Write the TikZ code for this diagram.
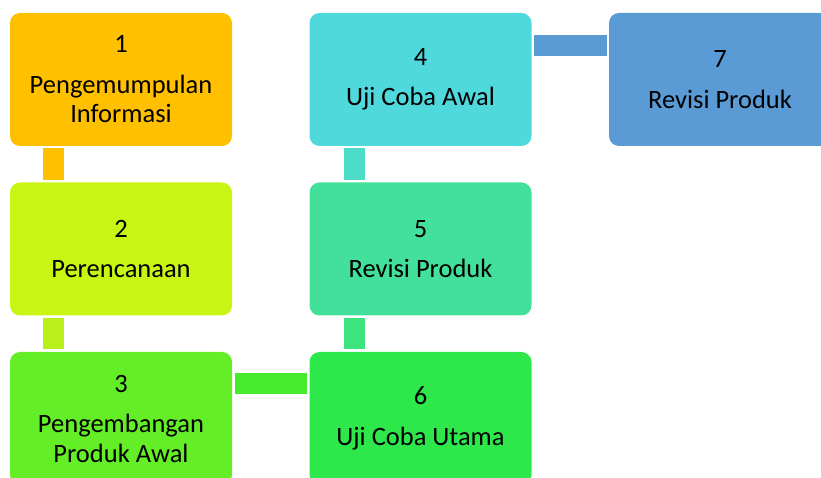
\documentclass[tikz,border=0pt]{standalone}
\usepackage{fontspec}
\setmainfont{Carlito}
\definecolor{gold}{HTML}{FFC000}
\definecolor{lime}{HTML}{C9F514}
\definecolor{limebar}{HTML}{B9F01A}
\definecolor{grass}{HTML}{64EE28}
\definecolor{grassbar}{HTML}{46EB2D}
\definecolor{leaf}{HTML}{2EE84B}
\definecolor{leafbar}{HTML}{3CE47D}
\definecolor{mint}{HTML}{42E09B}
\definecolor{mintbar}{HTML}{4CDCC8}
\definecolor{aqua}{HTML}{50D9DC}
\definecolor{steel}{HTML}{5B9BD5}
\begin{document}
\begin{tikzpicture}[line join=bevel,
  stepbox/.style={rounded corners=10bp,minimum width=222bp,minimum height=133bp,
    inner sep=0pt,outer sep=0pt,align=center,font=\fontsize{26.5bp}{29.5bp}\selectfont},
  bar/.style={line width=21bp,shorten <=2.5bp,shorten >=2.5bp}]
%%
\clip (0bp,0bp) rectangle (821bp,478bp);
\node (node_1) at (121bp,398.5bp) [stepbox,fill=gold] {1\\[11bp]Pengemumpulan\\Informasi};
  \node (node_2) at (121bp,229bp) [stepbox,fill=lime] {2\\[11bp]Perencanaan};
  \node (node_3) at (121bp,59.5bp) [stepbox,fill=grass] {3\\[11bp]Pengembangan\\Produk Awal};
  \node (node_4) at (420.5bp,398.5bp) [stepbox,fill=aqua] {4\\[11bp]Uji Coba Awal};
  \node (node_5) at (420.5bp,229bp) [stepbox,fill=mint] {5\\[11bp]Revisi Produk};
  \node (node_6) at (420.5bp,59.5bp) [stepbox,fill=leaf] {6\\[11bp]Uji Coba Utama};
  \node (node_7) at (720bp,398.5bp) [stepbox,fill=steel] {7\\[11bp]Revisi Produk};
  \draw [bar,gold] ([xshift=43.5bp]node_1.south west) -- ([xshift=43.5bp]node_2.north west);
  \draw [bar,limebar] ([xshift=43.5bp]node_2.south west) -- ([xshift=43.5bp]node_3.north west);
  \draw [bar,grassbar] ([yshift=-31.5bp]node_3.north east) -- ([yshift=-31.5bp]node_6.north west);
  \draw [bar,leafbar] ([xshift=44.5bp]node_6.north west) -- ([xshift=44.5bp]node_5.south west);
  \draw [bar,mintbar] ([xshift=44.5bp]node_5.north west) -- ([xshift=44.5bp]node_4.south west);
  \draw [bar,steel] ([yshift=-32.5bp]node_4.north east) -- ([yshift=-32.5bp]node_7.north west);
%
\end{tikzpicture}
\end{document}
